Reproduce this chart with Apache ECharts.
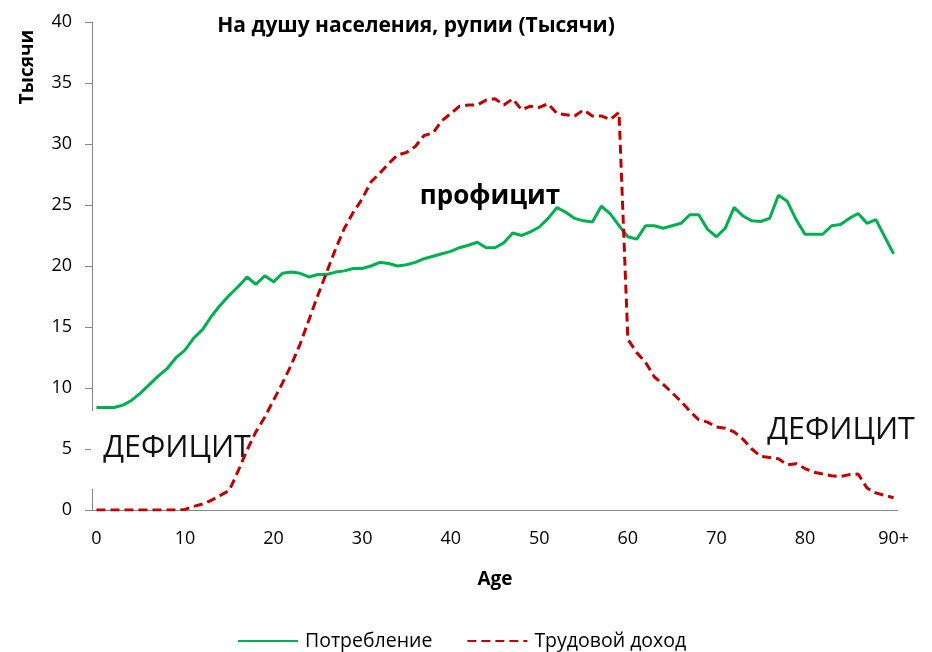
<!DOCTYPE html>
<html>
<head>
<meta charset="utf-8">
<script src="https://cdn.jsdelivr.net/npm/echarts@6/dist/echarts.min.js"></script>
<style>
  html, body { margin: 0; padding: 0; background: #fff; }
  #chart { width: 932px; height: 652px; }
</style>
</head>
<body>
<div id="chart"></div>
<script>
const ages = [
  "0","1","2","3","4","5","6","7","8","9",
  "10","11","12","13","14","15","16","17","18","19",
  "20","21","22","23","24","25","26","27","28","29",
  "30","31","32","33","34","35","36","37","38","39",
  "40","41","42","43","44","45","46","47","48","49",
  "50","51","52","53","54","55","56","57","58","59",
  "60","61","62","63","64","65","66","67","68","69",
  "70","71","72","73","74","75","76","77","78","79",
  "80","81","82","83","84","85","86","87","88","89",
  "90+"
];

// Потребление
const consumption = [
  8.4, 8.4, 8.4, 8.6, 9.0, 9.6, 10.3, 11.0, 11.6, 12.5,
  13.1, 14.1, 14.8, 15.9, 16.8, 17.6, 18.3, 19.1, 18.5, 19.2,
  18.7, 19.4, 19.5, 19.4, 19.1, 19.3, 19.3, 19.5, 19.6, 19.8,
  19.8, 20.0, 20.3, 20.2, 20.0, 20.1, 20.3, 20.6, 20.8, 21.0,
  21.2, 21.5, 21.7, 21.95, 21.5, 21.5, 21.9, 22.7, 22.5, 22.8,
  23.2, 23.9, 24.8, 24.4, 23.9, 23.7, 23.6, 24.9, 24.3, 23.3,
  22.4, 22.2, 23.3, 23.3, 23.1, 23.3, 23.5, 24.2, 24.2, 23.0,
  22.4, 23.1, 24.8, 24.1, 23.7, 23.65, 23.9, 25.8, 25.3, 23.8,
  22.6, 22.6, 22.6, 23.3, 23.4, 23.9, 24.3, 23.5, 23.8, 22.4,
  21.0
];

// Трудовой доход
const laborIncome = [
  0, 0, 0, 0, 0, 0, 0, 0, 0, 0,
  0.05, 0.3, 0.5, 0.8, 1.2, 1.6, 3.2, 4.9, 6.4, 7.6,
  9.0, 10.4, 11.9, 13.6, 15.6, 17.6, 19.5, 21.4, 23.1, 24.4,
  25.5, 26.9, 27.6, 28.4, 29.1, 29.3, 29.8, 30.7, 30.9, 31.9,
  32.5, 33.1, 33.2, 33.2, 33.6, 33.7, 33.2, 33.7, 32.8, 33.1,
  33.0, 33.3, 32.5, 32.4, 32.3, 32.8, 32.3, 32.3, 32.0, 32.6,
  14.0, 12.9, 12.1, 10.9, 10.3, 9.6, 8.9, 8.1, 7.4, 7.2,
  6.8, 6.7, 6.4, 5.8, 5.0, 4.4, 4.3, 4.2, 3.7, 3.8,
  3.4, 3.1, 2.95, 2.8, 2.75, 2.9, 2.95, 1.8, 1.4, 1.2,
  1.0
];

const font = "'Open Sans', 'Noto Sans', sans-serif";
const axisGrey = "#868686";

const chart = echarts.init(document.getElementById("chart"));
chart.setOption({
  animation: false,
  backgroundColor: "#fff",
  textStyle: { fontFamily: font, color: "#000" },
  title: {
    text: "На душу населения, рупии (Тысячи)",
    left: 411,
    top: 11,
    textAlign: "center",
    textStyle: { fontSize: 21, fontWeight: "bold", fontFamily: font, color: "#000" }
  },
  grid: { left: 92, right: 34, top: 22, bottom: 142, containLabel: false },
  legend: {
    left: 232,
    top: 626,
    itemWidth: 60,
    itemHeight: 14,
    itemGap: 34,
    itemStyle: { opacity: 0 },
    textStyle: { fontSize: 19.5, fontFamily: font, color: "#000", padding: [0, 0, 0, 2] },
    data: ["Потребление", "Трудовой доход"]
  },
  xAxis: {
    type: "category",
    data: ages,
    boundaryGap: true,
    name: "Age",
    nameLocation: "middle",
    nameGap: 60,
    nameTextStyle: { fontSize: 19, fontWeight: "bold", color: "#000" },
    axisLine: { lineStyle: { color: axisGrey, width: 1 } },
    axisTick: { interval: 4, length: 7, lineStyle: { color: axisGrey } },
    axisLabel: { interval: 9, fontSize: 18, color: "#000", margin: 20 },
    splitLine: { show: false }
  },
  yAxis: {
    type: "value",
    min: 0,
    max: 40,
    interval: 5,
    axisLine: { show: true, lineStyle: { color: axisGrey, width: 1 } },
    axisTick: { show: true, length: 7, lineStyle: { color: axisGrey } },
    axisLabel: { fontSize: 18, color: "#000", margin: 20 },
    splitLine: { show: false }
  },
  graphic: [
    {
      type: "text",
      x: 28,
      y: 67,
      rotation: Math.PI / 2,
      style: {
        text: "Тысячи", font: "bold 19px " + font, fill: "#000",
        align: "center", verticalAlign: "middle"
      },
      z: 5
    },
    {
      type: "rect",
      shape: { x: 91, y: 411, width: 165, height: 78 },
      style: { fill: "#fff" },
      z: 1
    },
    {
      type: "text",
      x: 177,
      y: 448,
      style: {
        text: "ДЕФИЦИТ", font: "30.5px " + font, fill: "#111",
        align: "center", verticalAlign: "middle"
      },
      z: 1
    },
    {
      type: "text",
      x: 841,
      y: 430,
      style: {
        text: "ДЕФИЦИТ", font: "30.5px " + font, fill: "#111",
        align: "center", verticalAlign: "middle"
      },
      z: 1
    },
    {
      type: "text",
      x: 490,
      y: 197,
      style: {
        text: "профицит", font: "bold 26px " + font, fill: "#000",
        align: "center", verticalAlign: "middle"
      },
      z: 1
    }
  ],
  series: [
    {
      name: "Потребление",
      type: "line",
      data: consumption,
      symbol: "none",
      lineStyle: { color: "#00B050", width: 3 },
      itemStyle: { color: "#00B050" },
      z: 3
    },
    {
      name: "Трудовой доход",
      type: "line",
      data: laborIncome,
      symbol: "none",
      lineStyle: { color: "#C00000", width: 3, type: [9, 5] },
      itemStyle: { color: "#C00000" },
      z: 3
    }
  ]
});
</script>
</body>
</html>
